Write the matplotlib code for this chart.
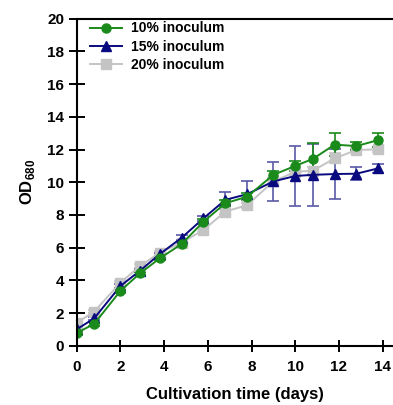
import numpy as np
import matplotlib
matplotlib.use("Agg")
import matplotlib.pyplot as plt

plt.rcParams['font.family'] = ['Liberation Sans', 'DejaVu Sans']
plt.rcParams['font.weight'] = 'bold'
plt.rcParams['mathtext.fontset'] = 'custom'
plt.rcParams['mathtext.rm'] = 'Liberation Sans:bold'
plt.rcParams['mathtext.bf'] = 'Liberation Sans:bold'

# sampling days
days = [0, 0.8, 2, 2.9, 3.8, 4.8, 5.8, 6.8, 7.8, 9, 10, 10.8, 11.8, 12.8, 13.8]

# OD680 means
od_10 = [0.78, 1.33, 3.35, 4.43, 5.34, 6.22, 7.58, 8.71, 9.12, 10.45, 11.0, 11.42, 12.3, 12.21, 12.58]
od_15 = [1.0, 1.67, 3.65, 4.59, 5.6, 6.6, 7.79, 8.92, 9.27, 10.05, 10.38, 10.45, 10.5, 10.52, 10.85]
od_20 = [1.4, 2.08, 3.85, 4.87, 5.69, 6.3, 7.08, 8.2, 8.6, 10.05, 10.64, 10.7, 11.46, 11.97, 12.01]

# standard deviations
sd_10 = [0.1, 0.1, 0.1, 0.1, 0.1, 0.1, 0.15, 0.2, 0.2, 0.25, 0.3, 0.95, 0.7, 0.22, 0.4]
sd_15 = [0.1, 0.1, 0.1, 0.1, 0.1, 0.15, 0.15, 0.5, 0.8, 1.2, 1.85, 1.9, 1.55, 0.38, 0.28]
sd_20 = [0.1, 0.1, 0.1, 0.1, 0.1, 0.1, 0.1, 0.15, 0.15, 0.2, 0.2, 0.2, 0.3, 0.15, 0.15]

labels = ['10% inoculum', '15% inoculum', '20% inoculum']

fig = plt.figure(figsize=(3.93, 4.05), dpi=100)
ax = fig.add_axes([0.195, 0.1464, 0.805, 0.8074])

series = [
    (od_20, sd_20, '#c4c4c4', 's', labels[2]),
    (od_15, sd_15, '#0a0a80', '^', labels[1]),
    (od_10, sd_10, '#1a8a1a', 'o', labels[0]),
]
handles = {}
for y, e, c, m, lab in series:
    ecol = '#5a5aa8' if m == '^' else c
    h = ax.errorbar(days, y, yerr=e, color=c, marker=m, markersize=6.5,
                    lw=1.4, elinewidth=1.2, ecolor=ecol, capsize=4, capthick=1.2,
                    label=lab)
    handles[lab] = h[0]  # line only for legend

ax.set_xlim(0, 14.47)
ax.set_ylim(0, 20)
ax.set_xticks(np.arange(0, 15, 2))
ax.set_yticks(np.arange(0, 21, 2))
ax.spines['right'].set_visible(False)
for s in ['left', 'bottom', 'top']:
    ax.spines[s].set_linewidth(1.5)
ax.tick_params(axis='x', direction='inout', length=9, width=1.4, labelsize=11, pad=6)
ax.tick_params(axis='y', direction='inout', length=12, width=1.4, labelsize=11, pad=3)
for t in ax.get_xticklabels() + ax.get_yticklabels():
    t.set_fontweight('bold')

ax.set_xlabel('Cultivation time (days)', fontsize=12, fontweight='bold', labelpad=9)
ax.set_ylabel(r'OD$_{680}$', fontsize=12, fontweight='bold', labelpad=7)

leg = ax.legend([handles[l] for l in labels], labels, loc='upper left', frameon=False,
                fontsize=10, handlelength=2.3, handletextpad=0.6, labelspacing=0.3,
                borderaxespad=0.0, borderpad=0.2, bbox_to_anchor=(0.035, 1.0))
for t in leg.get_texts():
    t.set_fontweight('bold')

fig.savefig('out.png', dpi=100)
